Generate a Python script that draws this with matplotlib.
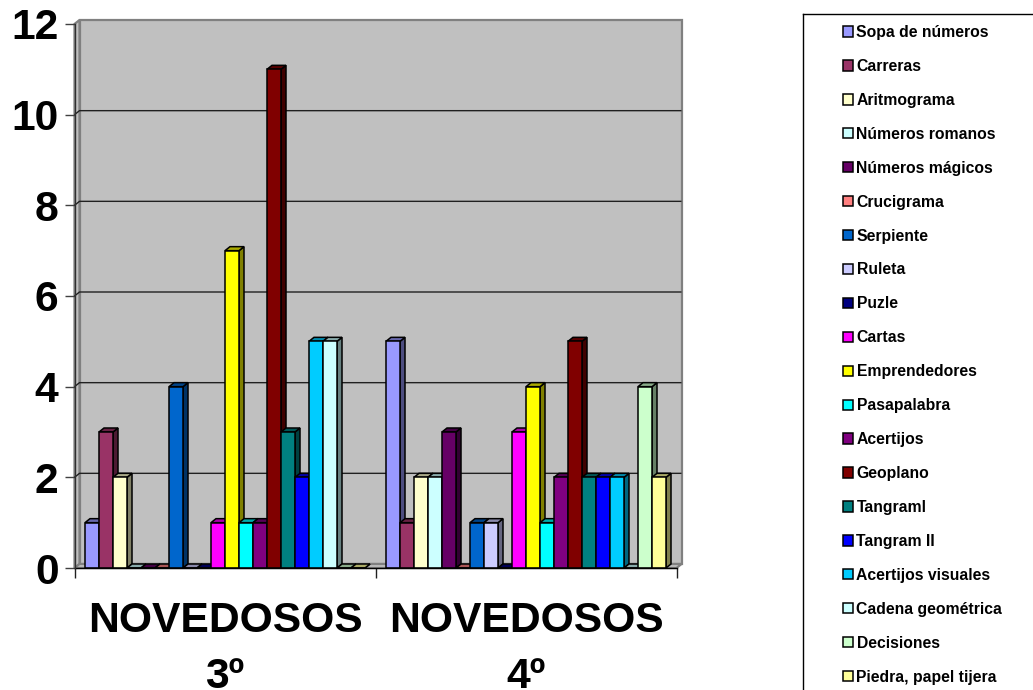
import matplotlib
matplotlib.use("Agg")
import matplotlib.pyplot as plt
from matplotlib.colors import to_rgb
from matplotlib.lines import Line2D
from matplotlib.patches import Polygon

plt.rcParams["font.family"] = ["Liberation Sans", "DejaVu Sans"]

groups = ["NOVEDOSOS\n3º", "NOVEDOSOS\n4º"]
juegos = ["Sopa de números", "Carreras", "Aritmograma", "Números romanos",
          "Números mágicos", "Crucigrama", "Serpiente", "Ruleta", "Puzle",
          "Cartas", "Emprendedores", "Pasapalabra", "Acertijos", "Geoplano",
          "Tangraml", "Tangram II", "Acertijos visuales", "Cadena geométrica",
          "Decisiones", "Piedra, papel tijera"]
valores_3 = [1, 3, 2, 0, 0, 0, 4, 0, 0, 1, 7, 1, 1, 11, 3, 2, 5, 5, 0, 0]
valores_4 = [5, 1, 2, 2, 3, 0, 1, 1, 0, 3, 4, 1, 2, 5, 2, 2, 2, 0, 4, 2]
colores = ["#9999FF", "#993366", "#FFFFCC", "#CCFFFF", "#660066", "#FF8080",
           "#0066CC", "#CCCCFF", "#000080", "#FF00FF", "#FFFF00", "#00FFFF",
           "#800080", "#800000", "#008080", "#0000FF", "#00CCFF", "#CCFFFF",
           "#CCFFCC", "#FFFF99"]
yticks = [0, 2, 4, 6, 8, 10, 12]

W, H = 1033, 690
fig = plt.figure(figsize=(W / 100, H / 100), dpi=100)
left, right, bottom, top = 74.5, 676.5, 568.0, 24.0
ax = fig.add_axes([left / W, 1 - bottom / H, (right - left) / W, (bottom - top) / H])
ax.set_xlim(0, 2)
ax.set_ylim(0, 12)
ax.patch.set_visible(False)
for s in ax.spines.values():
    s.set_visible(False)

# depth of the fake 3D, in data units
dx = 5 / ((right - left) / 2)
dy = 4 / ((bottom - top) / 12)
bar_w = 14 / ((right - left) / 2)


def shade(color, k):
    return tuple(c * k for c in to_rgb(color))


def face(pts, fc, ec="black", lw=1.1, z=1):
    ax.add_patch(Polygon(pts, closed=True, facecolor=fc, edgecolor=ec, linewidth=lw,
                         zorder=z, clip_on=False, joinstyle="miter"))


# walls and floor
wall = "#C0C0C0"
wall_edge = "#808080"
face([(dx, dy), (2 + dx, dy), (2 + dx, 12 + dy), (dx, 12 + dy)], wall, wall_edge, 1.6)
face([(0, 0), (dx, dy), (dx, 12 + dy), (0, 12)], wall, wall_edge, 1.6)
face([(0, 0), (2, 0), (2 + dx, dy), (dx, dy)], wall, wall_edge, 1.6)
for v in yticks[1:-1]:
    ax.plot([0, dx, 2 + dx], [v, v + dy, v + dy], color="#202020", lw=1.0, zorder=2,
            clip_on=False, solid_capstyle="butt")

# bars, left to right so each one covers the side of the previous one
z = 3
for g, valores in enumerate([valores_3, valores_4]):
    for i, v in enumerate(valores):
        x0 = g + 0.5 + (i - 10) * bar_w
        x1 = x0 + bar_w
        face([(x1, 0), (x1 + dx, dy), (x1 + dx, v + dy), (x1, v)], shade(colores[i], 0.5), z=z)
        face([(x0, v), (x1, v), (x1 + dx, v + dy), (x0 + dx, v + dy)], shade(colores[i], 0.67), z=z)
        ax.bar(x0, v, bar_w, align="edge", color=colores[i], edgecolor="black", linewidth=1.1,
               zorder=z, label=juegos[i] if g == 0 else None, clip_on=False)
        z += 1

# axes in front
ax.plot([0, 2], [0, 0], color="black", lw=1.0, zorder=z, clip_on=False)
ax.plot([0, 0], [0, 12], color="#303030", lw=1.0, zorder=z, clip_on=False)
ax.set_yticks(yticks)
ax.set_xticks([0, 1, 2])
ax.set_xticklabels([])
ax.set_xticks([0.5, 1.5], minor=True)
ax.set_xticklabels(groups, minor=True, fontsize=30.7, fontweight="bold", linespacing=1.51)
ax.tick_params(axis="x", which="major", length=7.5, width=1.0, color="#202020")
ax.tick_params(axis="x", which="minor", length=0, pad=24)
ax.tick_params(axis="y", length=7.5, width=1.0, color="#404040", pad=4)
for lab in ax.get_yticklabels():
    lab.set_fontsize(30.7)
    lab.set_fontweight("bold")

# legend: only the top and left of its box fit in the picture
fig.add_artist(Line2D([803 / W, 803 / W], [0, 1 - 14 / H], color="black", lw=1.0))
fig.add_artist(Line2D([803 / W, 1], [1 - 14 / H, 1 - 14 / H], color="black", lw=1.0))
fs = 11.3
px = fs * 100 / 72
handles, labels = ax.get_legend_handles_labels()
fig.legend(handles, labels, loc="upper left", bbox_to_anchor=(842.5 / W, 1 - 25 / H),
           frameon=False, prop={"weight": "bold", "size": fs}, ncol=1,
           borderpad=0, borderaxespad=0, handlelength=10 / px, handleheight=10 / px,
           handletextpad=4 / px, labelspacing=1.206)

fig.savefig("out.png", dpi=100)
